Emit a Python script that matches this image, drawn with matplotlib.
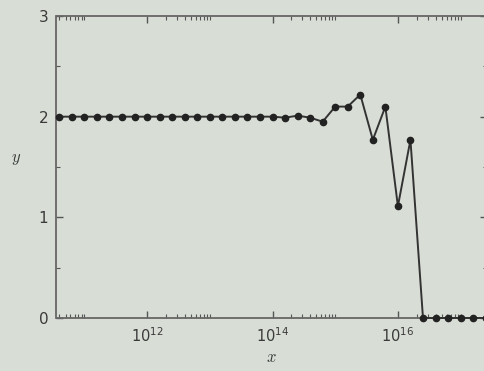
import numpy as np
import matplotlib.pyplot as plt
from matplotlib.ticker import FixedLocator, NullFormatter

# x = 10^(10.6 + 0.2k)
log_x = [10.6 + 0.2 * k for k in range(35)]
y_vals = [2.0, 2.0, 2.0, 2.0, 2.0, 2.0, 2.0, 2.0, 2.0, 2.0,
          2.0, 2.0, 2.0, 2.0, 2.0, 2.0, 2.0, 2.0, 1.99, 2.01,
          1.99, 1.95, 2.10, 2.10, 2.22, 1.77, 2.10, 1.11, 1.77, 0.0,
          0.0, 0.0, 0.0, 0.0, 0.0]
major_exp = [10, 12, 14, 16]
tick_labels = ["$10^{10}$", "$10^{12}$", "$10^{14}$", "$10^{16}$"]

bg = "#d8ddd6"
ink = "#3a3a3a"
plt.rcParams['mathtext.fontset'] = 'dejavusans'

fig = plt.figure(figsize=(4.85, 3.71), dpi=100, facecolor=bg)
ax = fig.add_axes([56.5 / 485, 1 - 318 / 371, 430.5 / 485, 302 / 371])
ax.set_facecolor(bg)

x = 10.0 ** np.array(log_x)
ax.plot(x, y_vals, color="#333333", lw=1.4, marker="o", ms=4.5,
        mfc="#222222", mec="#222222", clip_on=False, zorder=3)

ax.set_xscale("log")
ax.set_xlim(10 ** 10.555, 10 ** (10.555 + 430.5 / 62.7))
ax.set_ylim(0, 3)

majors = [10.0 ** e for e in major_exp]
minors = [k * 10.0 ** e for e in major_exp for k in range(2, 11)]
ax.xaxis.set_major_locator(FixedLocator(majors))
ax.xaxis.set_minor_locator(FixedLocator(minors))
ax.set_xticklabels(tick_labels)
ax.xaxis.set_minor_formatter(NullFormatter())
ax.set_yticks([0, 1, 2, 3])
ax.set_yticks([0.5, 1.5, 2.5], minor=True)

ax.tick_params(which="both", direction="in", top=True, right=True,
               colors="#555555", labelcolor=ink, labelsize=10.5)
ax.tick_params(which="major", length=5, width=1)
ax.tick_params(which="minor", length=3, width=0.8)
ax.tick_params(axis="x", pad=6)
ax.tick_params(axis="y", pad=6, labelsize=11)
for s in ax.spines.values():
    s.set_color("#666666")
    s.set_linewidth(1.3)

ax.set_xlabel("$x$", fontsize=12, color=ink, labelpad=2,
              math_fontfamily="cm")
ax.set_ylabel("$y$", fontsize=12, color=ink, rotation=0, labelpad=18,
              math_fontfamily="cm")
ax.yaxis.set_label_coords(-0.095, 0.5)

fig.savefig("out.png", dpi=100, facecolor=bg)
